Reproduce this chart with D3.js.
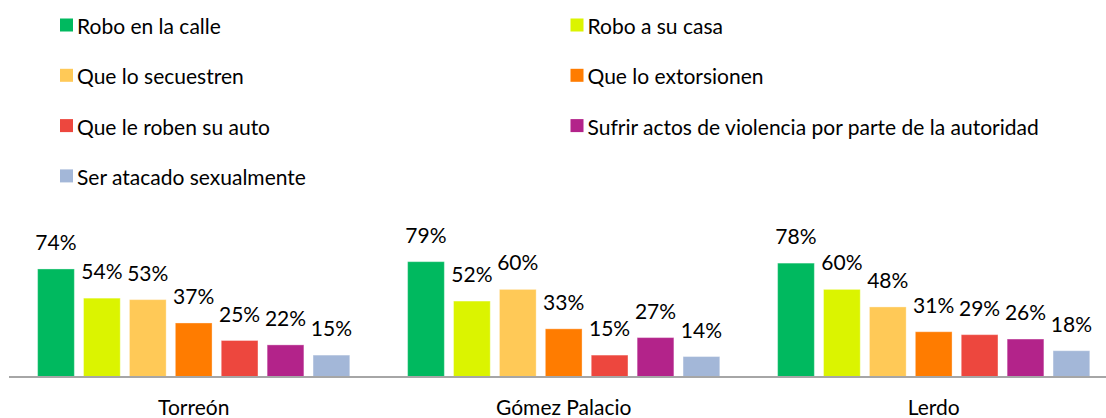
<!DOCTYPE html>
<html lang="es">
<head>
	<meta charset="utf-8">
	<title>Percepción de inseguridad</title>
	<style>
		body { margin: 0; background: #fff; }
		text { font-family: Lato, "Open Sans", sans-serif; fill: #000; }
		.bar { stroke: rgba(255,255,255,0.35); stroke-width: 1px; }
		.domain { stroke: #a6a6a6; stroke-width: 2px; }
	</style>
</head>
<body>
	<div id="chart"></div>

	<script src="https://d3js.org/d3.v7.min.js"></script>
	<script>
		var
		    width = 1106,
		    height = 418,
		    fontSize = "21px";

		var series = [
			{ key: "Robo en la calle", color: "#00b95f" },
			{ key: "Robo a su casa", color: "#dbf400" },
			{ key: "Que lo secuestren", color: "#ffc957" },
			{ key: "Que lo extorsionen", color: "#ff7c00" },
			{ key: "Que le roben su auto", color: "#ed473e" },
			{ key: "Sufrir actos de violencia por parte de la autoridad", color: "#b3238a" },
			{ key: "Ser atacado sexualmente", color: "#a3b7d8" }
		];

		var dados = [
			{ ciudad: "Torreón", valores: [74, 54, 53, 37, 25, 22, 15] },
			{ ciudad: "Gómez Palacio", valores: [79, 52, 60, 33, 15, 27, 14] },
			{ ciudad: "Lerdo", valores: [78, 60, 48, 31, 29, 26, 18] }
		];

		var svg = d3.select("#chart")
				.append("svg")
				.attr("width", width)
				.attr("height", height);

		// leyenda, dos columnas
		var legend = svg.selectAll(".legend")
			.data(series)
		  .enter().append("g")
			.attr("class", "legend")
			.attr("transform", function(d, i) {
				return "translate(" + (i % 2 ? 570.5 : 60) + "," + (34 + Math.floor(i / 2) * 50.3) + ")";
			});

		legend.append("rect")
			.attr("y", -15.5)
			.attr("width", 13)
			.attr("height", 13)
			.attr("fill", function(d) { return d.color; });

		legend.append("text")
			.attr("x", 17)
			.style("font-size", fontSize)
			.text(function(d) { return d.key; });

		// escalas
		var baseline = 377;

		var x0 = d3.scaleBand()
			.domain(dados.map(function(d) { return d.ciudad; }))
			.range([8.7, 8.7 + 370 * 3]);

		var x1 = d3.scaleBand()
			.domain(d3.range(series.length))
			.range([0, x0.bandwidth()])
			.paddingInner(0.2)
			.paddingOuter(0.63);

		var y = d3.scaleLinear()
			.domain([0, 100])
			.range([baseline, baseline - 146]);

		var grupo = svg.selectAll(".grupo")
			.data(dados)
		  .enter().append("g")
			.attr("class", "grupo")
			.attr("transform", function(d) { return "translate(" + x0(d.ciudad) + ",0)"; });

		var celdas = grupo.selectAll(".celda")
			.data(function(d) { return d.valores.map(function(v, i) { return { i: i, v: v }; }); })
		  .enter();

		celdas.append("rect")
			.attr("class", "bar")
			.attr("x", function(d) { return x1(d.i); })
			.attr("width", x1.bandwidth())
			.attr("y", function(d) { return y(d.v); })
			.attr("height", function(d) { return baseline - y(d.v); })
			.attr("fill", function(d) { return series[d.i].color; });

		celdas.append("text")
			.attr("x", function(d) { return x1(d.i) + x1.bandwidth() / 2; })
			.attr("y", function(d) { return y(d.v) - 19; })
			.attr("text-anchor", "middle")
			.style("font-size", fontSize)
			.text(function(d) { return d.v + "%"; });

		// eje
		var xAxis = svg.append("g")
			.attr("transform", "translate(0," + baseline + ")")
			.call(d3.axisBottom(x0).tickSize(0).tickPadding(23));

		xAxis.select(".domain").attr("d", "M9,0H" + width);

		xAxis.selectAll(".tick text")
			.style("font-size", fontSize)
			.style("font-family", "Lato, 'Open Sans', sans-serif")
			.attr("fill", "#000");
	</script>
</body>
</html>
